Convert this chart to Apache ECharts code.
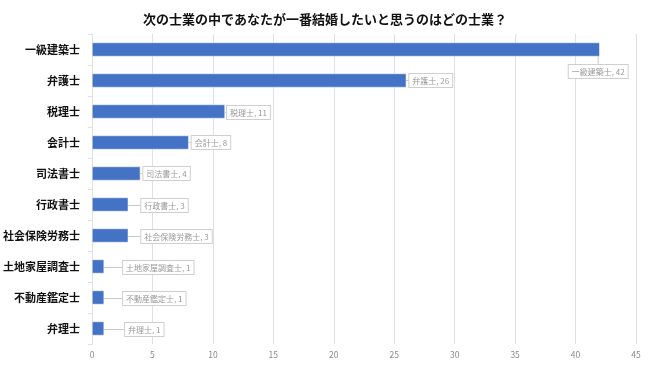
<!DOCTYPE html>
<html>
<head>
<meta charset="utf-8">
<script src="https://cdn.jsdelivr.net/npm/echarts@6/dist/echarts.min.js"></script>
<style>
html,body{margin:0;padding:0;background:#fff;}
#c{width:650px;height:365px;}
</style>
</head>
<body>
<div id="c"></div>
<script>
const titleText = '次の士業の中であなたが一番結婚したいと思うのはどの士業？';
const categories = ['一級建築士','弁護士','税理士','会計士','司法書士','行政書士','社会保険労務士','土地家屋調査士','不動産鑑定士','弁理士'];
const values = [42, 26, 11, 8, 4, 3, 3, 1, 1, 1];
const xTicks = {min: 0, max: 45, interval: 5};
// label callout offsets (presentation only)
const labelOffsets = [[-34,22],[0,0],[-1,1],[0,0],[0,0],[10,1],[10,1],[16,1],[16,1],[18,1]];

const chart = echarts.init(document.getElementById('c'), null, {renderer:'canvas'});
const FONT = '"Noto Sans CJK JP", "Noto Sans", sans-serif';
chart.setOption({
  animation: false,
  backgroundColor: '#fff',
  title: {
    text: titleText, left: 'center', top: 8,
    textStyle: {fontFamily: FONT, fontSize: 13, fontWeight: 'bold', color: '#111'}
  },
  grid: {left: 92, right: 14, top: 34, bottom: 21, containLabel: false},
  xAxis: {
    type: 'value', min: xTicks.min, max: xTicks.max, interval: xTicks.interval,
    axisLine: {show: false}, axisTick: {show: false},
    axisLabel: {fontFamily: FONT, fontSize: 8.5, color: '#8c8c8c', margin: 7},
    splitLine: {show: true, lineStyle: {color: '#e0e0e0', width: 1}}
  },
  yAxis: {
    type: 'category', data: categories, inverse: true,
    axisLine: {show: true, lineStyle: {color: '#e0e0e0'}},
    axisTick: {show: true, length: 4, lineStyle: {color: '#e0e0e0'}},
    axisLabel: {fontFamily: FONT, fontSize: 11, fontWeight: 'bold', color: '#111', margin: 12}
  },
  series: [{
    type: 'bar', data: values, barWidth: '45%',
    itemStyle: {color: '#4472C4', borderColor: '#ffffff', borderWidth: 0.5},
    label: {
      show: true, position: 'right', distance: 3,
      formatter: '{b}, {c}',
      fontFamily: FONT, fontSize: 8, color: '#999999',
      backgroundColor: '#ffffff', borderColor: '#cfcfcf', borderWidth: 1,
      padding: [3, 3, 2, 3]
    },
    labelLine: {show: true, lineStyle: {color: '#c8c8c8', width: 1}},
    labelLayout: function (p) {
      const o = labelOffsets[p.dataIndex] || [0,0];
      return {dx: o[0], dy: o[1]};
    }
  }]
});
</script>
</body>
</html>
